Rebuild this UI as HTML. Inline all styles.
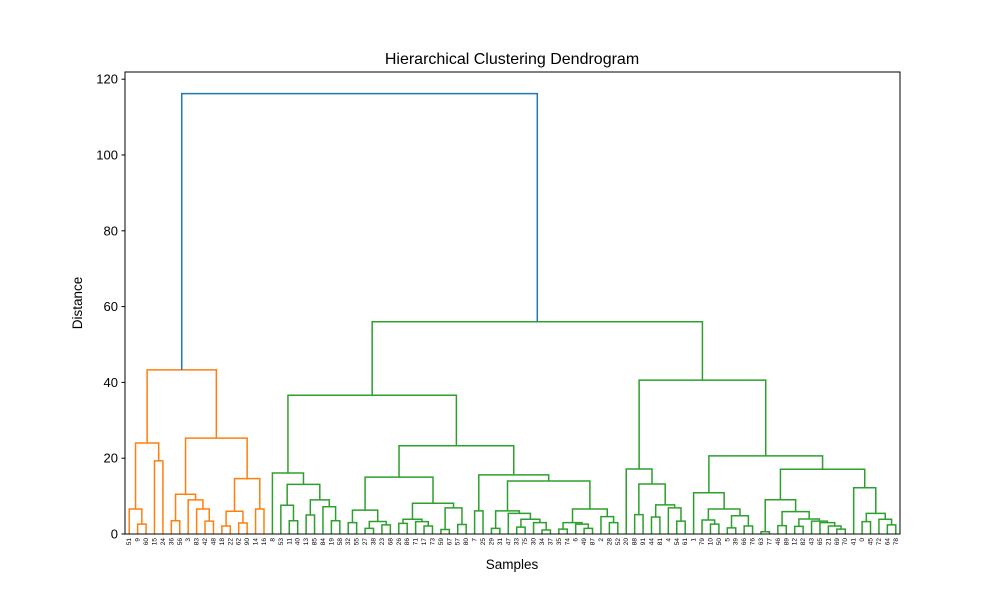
<!DOCTYPE html>
<html><head><meta charset="utf-8"><style>
body{margin:0;background:#fff}
svg{display:block;font-family:"Liberation Sans",sans-serif}
</style></head><body>
<svg id="chart" width="1000" height="600" viewBox="0 0 1000 600">
<rect x="0" y="0" width="1000" height="600" fill="#fff"/>
<text x="512" y="64" font-size="16" text-anchor="middle">Hierarchical Clustering Dendrogram</text>
<text x="512" y="569" font-size="13.5" text-anchor="middle">Samples</text>
<text x="82" y="303" font-size="13.5" text-anchor="middle" transform="rotate(-90 82 303)">Distance</text>
<g id="links"></g>
<g id="yaxis"></g>
<g id="xlabels"></g>
<rect x="125" y="72" width="775" height="462" fill="none" stroke="#000" stroke-width="1"/>
</svg>
<script>
const leafLabels = [51,9,60,15,24,36,56,3,83,42,48,18,22,62,90,14,16,8,53,11,40,13,85,84,19,58,32,55,27,38,23,68,26,86,71,17,73,59,67,57,80,7,25,29,31,47,33,75,30,34,37,35,74,6,49,87,2,28,52,20,88,91,44,81,4,54,61,1,79,10,50,5,39,66,76,63,77,46,89,12,82,43,65,21,69,70,41,0,45,72,64,78];
const mergeLeft = [1,0,3,93,5,9,8,7,96,11,13,101,15,103,100,95,19,18,21,24,23,110,109,17,26,28,30,117,116,32,35,34,121,37,39,125,124,120,41,43,46,49,48,132,45,131,51,54,53,138,57,56,141,137,130,129,115,60,62,65,64,150,149,59,69,68,71,73,158,157,67,75,77,79,84,83,82,81,165,164,163,87,90,89,173,86,172,162,155,148,107];
const mergeRight = [2,92,4,94,6,10,97,98,99,12,14,102,16,104,105,106,20,108,22,25,111,112,113,114,27,29,31,118,119,33,36,122,123,38,40,126,127,128,42,44,47,50,133,134,135,136,52,55,139,140,58,142,143,144,145,146,147,61,63,66,151,152,153,154,70,156,72,74,159,160,161,76,78,80,85,166,167,168,169,170,171,88,91,174,175,176,177,178,179,180,181];
const mergeHeight = [2.6,6.6,19.3,24.0,3.5,3.4,6.6,9.0,10.5,2.1,2.9,6.0,6.6,14.6,25.3,43.3,3.5,7.6,5.0,3.5,7.2,9.0,13.1,16.1,3.0,1.5,2.4,3.3,6.3,2.8,2.1,3.25,3.9,1.2,2.5,6.9,8.1,15.0,6.1,1.5,1.8,1.05,3.0,3.9,5.45,6.1,1.3,1.5,2.6,3.0,3.0,4.6,6.6,14.0,15.6,23.3,36.6,5.1,4.5,3.4,6.9,7.7,13.2,17.15,2.6,3.7,1.6,2.1,4.8,6.6,10.9,0.6,2.2,2.0,1.3,2.1,3.0,3.4,3.95,5.9,9.05,3.25,2.4,3.9,5.45,12.2,17.1,20.6,40.6,56.0,116.2];
const yTicks = [0,20,40,60,80,100,120];
const clusterColors = ['#ff7f0e','#2ca02c','#d62728','#9467bd'];
const aboveColor = '#1f77b4';

const NS='http://www.w3.org/2000/svg';
const X0=125,X1=900,Y0=534,Y1=72,YMAX=121.9;
const N=leafLabels.length;
const xLeaf=i=>X0+(X1-X0)*(i+0.5)/N;
const yScale=h=>Y0-(Y0-Y1)*h/YMAX;
const maxH=Math.max(...mergeHeight);
const thresh=0.7*maxH;
const pos=[],ht=[];
for(let i=0;i<N;i++){pos[i]=xLeaf(i);ht[i]=0;}
mergeHeight.forEach((h,k)=>{pos[N+k]=(pos[mergeLeft[k]]+pos[mergeRight[k]])/2;ht[N+k]=h;});
// colors
const col={};let ci=0;
function paint(node,c){if(node<N)return;const k=node-N;col[k]=c;paint(mergeLeft[k],c);paint(mergeRight[k],c);}
function assign(node){if(node<N)return;const k=node-N;
 if(mergeHeight[k]>thresh){col[k]=aboveColor;assign(mergeLeft[k]);assign(mergeRight[k]);}
 else{paint(node,clusterColors[ci%clusterColors.length]);ci++;}}
assign(N+mergeHeight.length-1);
const gl=document.getElementById('links');
mergeHeight.forEach((h,k)=>{
 const a=mergeLeft[k],b=mergeRight[k];
 const p=document.createElementNS(NS,'path');
 p.setAttribute('d',`M${pos[a]},${yScale(ht[a])}V${yScale(h)}H${pos[b]}V${yScale(ht[b])}`);
 p.setAttribute('fill','none');p.setAttribute('stroke',col[k]);p.setAttribute('stroke-width','1.5');
 
 
 gl.appendChild(p);
});
const gy=document.getElementById('yaxis');
yTicks.forEach(t=>{
 const y=yScale(t);
 const l=document.createElementNS(NS,'line');
 l.setAttribute('x1',X0-3.5);l.setAttribute('x2',X0);l.setAttribute('y1',y);l.setAttribute('y2',y);l.setAttribute('stroke','#000');
 
 
 gy.appendChild(l);
 const tx=document.createElementNS(NS,'text');
 tx.setAttribute('x',X0-7);tx.setAttribute('y',y+4.5);tx.setAttribute('font-size','13');tx.setAttribute('text-anchor','end');
 tx.textContent=t;
 
 
 gy.appendChild(tx);
});
const gx=document.getElementById('xlabels');
leafLabels.forEach((lab,i)=>{
 const x=xLeaf(i);
 const tx=document.createElementNS(NS,'text');
 tx.setAttribute('x',x+2);tx.setAttribute('y',538);
 tx.setAttribute('font-size','6.5');tx.setAttribute('text-anchor','end');
 tx.setAttribute('transform',`rotate(-90 ${x+2} 538)`);
 tx.textContent=lab;
 
 
 gx.appendChild(tx);
});
</script>
</body></html>
